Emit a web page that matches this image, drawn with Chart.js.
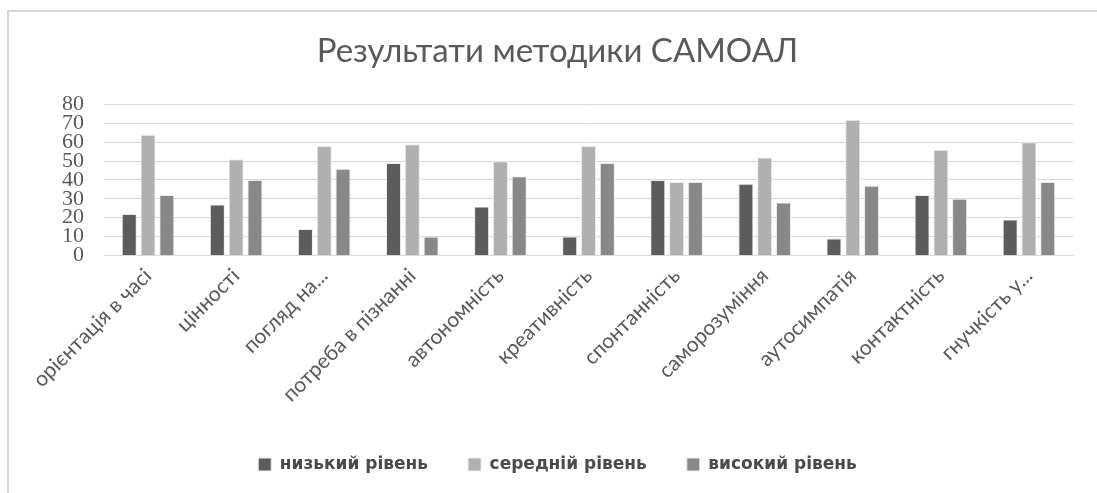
<!DOCTYPE html>
<html>
<head>
<meta charset="utf-8">
<script src="https://cdn.jsdelivr.net/npm/chart.js@4"></script>
<style>
  html, body { margin: 0; padding: 0; background: #fff; }
  #wrap {
    position: absolute; left: 7px; top: 10px; width: 1088px; height: 483px;
    border-left: 2px solid #d6d6d6; border-top: 2px solid #d6d6d6;
  }
</style>
</head>
<body>
<div id="wrap"><canvas id="chart"></canvas></div>
<script>
// Результати методики САМОАЛ, три рівні по кожній шкалі
const categories = ['орієнтація в часі', 'цінності', 'погляд на...', 'потреба в пізнанні', 'автономність',
  'креативність', 'спонтанність', 'саморозуміння', 'аутосимпатія', 'контактність', 'гнучкість у...'];
const lowLevel = [22, 27, 14, 49, 26, 10, 40, 38, 9, 32, 19];
const midLevel = [64, 51, 58, 59, 50, 58, 39, 52, 72, 56, 60];
const highLevel = [32, 40, 46, 10, 42, 49, 39, 28, 37, 30, 39];
const seriesNames = ['низький рівень', 'середній рівень', 'високий рівень'];
const yTicks = [0, 10, 20, 30, 40, 50, 60, 70, 80];

const colors = ['#5c5c5c', '#b0b0b0', '#888888'];

new Chart(document.getElementById('chart'), {
  type: 'bar',
  data: {
    labels: categories,
    datasets: [lowLevel, midLevel, highLevel].map((d, i) => ({
      label: seriesNames[i],
      data: d,
      backgroundColor: colors[i],
      borderColor: '#ececec',
      borderWidth: 1,
      categoryPercentage: 0.64,
      barPercentage: 0.8
    }))
  },
  options: {
    responsive: true,
    maintainAspectRatio: false,
    animation: false,
    layout: { padding: { left: 33, right: 24, bottom: 12 } },
    plugins: {
      title: {
        display: true,
        text: 'Результати методики САМОАЛ',
        color: '#595959',
        font: { family: 'Lato', size: 33, weight: 'normal' },
        padding: { top: 20, bottom: 33 }
      },
      legend: {
        position: 'bottom',
        labels: {
          color: '#4a4a4a',
          font: { family: 'DejaVu Sans', size: 17, weight: 'bold' },
          boxWidth: 13,
          boxHeight: 13,
          padding: 40
        }
      },
      tooltip: { enabled: false }
    },
    scales: {
      x: {
        grid: { display: false },
        border: { color: '#d9d9d9' },
        // extra room between the slanted labels and the legend
        afterFit: scale => { scale.height += 9; },
        ticks: {
          color: '#595959',
          font: { family: 'Lato', size: 21 },
          maxRotation: 45,
          minRotation: 45,
          autoSkip: false,
          padding: 0
        }
      },
      y: {
        min: 0,
        max: 80,
        afterBuildTicks: axis => { axis.ticks = yTicks.map(v => ({ value: v })); },
        grid: { color: '#d9d9d9', drawTicks: false },
        border: { display: false },
        ticks: {
          color: '#595959',
          font: { family: 'Liberation Serif', size: 22 },
          autoSkip: false,
          padding: 20
        }
      }
    }
  }
});
</script>
</body>
</html>
